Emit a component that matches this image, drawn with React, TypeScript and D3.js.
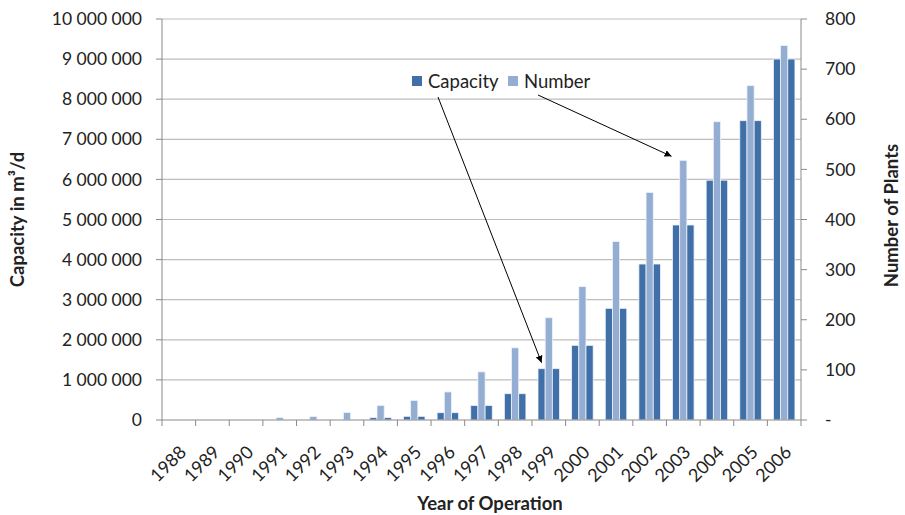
import React from 'react';
import * as d3 from 'd3';

const years = ['1988', '1989', '1990', '1991', '1992', '1993', '1994', '1995', '1996', '1997',
  '1998', '1999', '2000', '2001', '2002', '2003', '2004', '2005', '2006'];
const capacity = [0, 0, 0, 0, 0, 0, 58000, 92000, 182000, 362000,
  656000, 1280000, 1862000, 2785000, 3890000, 4863000, 5980000, 7464000, 9002000];
const plants = [0, 0, 0, 5, 7, 15, 29, 39, 56, 96,
  144, 204, 266, 356, 454, 518, 595, 667, 747];
const leftTicks = [0, 1000000, 2000000, 3000000, 4000000, 5000000, 6000000, 7000000, 8000000, 9000000, 10000000];
const rightTicks = [0, 100, 200, 300, 400, 500, 600, 700, 800];

const W = 905;
const H = 515;
const margin = { top: 19, right: 104, bottom: 95, left: 162 };
const FONT = 'Lato, "Open Sans", sans-serif';
const DARK = '#4170a8';
const LIGHT = '#93add3';
const TXT = '#222';

const fmt = (v: number) => (v === 0 ? '0' : d3.format(',')(v).replace(/,/g, ' '));

export default function App() {
  const x0 = margin.left;
  const x1 = W - margin.right;
  const y0 = H - margin.bottom;
  const y1 = margin.top;

  const x = d3.scaleBand<string>().domain(years).range([x0, x1]).padding(0);
  const bw = x.bandwidth();
  const inner = d3.scaleBand<string>().domain(['a', 'n', 'b']).range([bw * 0.18, bw * 0.82]).padding(0);
  const yL = d3.scaleLinear().domain([0, 10000000]).range([y0, y1]);
  const yR = d3.scaleLinear().domain([0, 800]).range([y0, y1]);

  const bars: { key: string; x: number; y: number; h: number; fill: string }[] = [];
  years.forEach((yr, i) => {
    const bx = x(yr) as number;
    const c = capacity[i];
    const n = plants[i];
    bars.push({ key: yr + 'a', x: bx + (inner('a') as number), y: yL(c), h: y0 - yL(c), fill: DARK });
    bars.push({ key: yr + 'n', x: bx + (inner('n') as number), y: yR(n), h: y0 - yR(n), fill: LIGHT });
    bars.push({ key: yr + 'b', x: bx + (inner('b') as number), y: yL(c), h: y0 - yL(c), fill: DARK });
  });

  const ib = inner.bandwidth();
  // arrow targets: 1999 capacity bar and 2003 number bar
  const capTip = [(x('1999') as number) + (inner('a') as number) + ib / 2, yL(capacity[11]) - 6];
  const numTip = [(x('2003') as number) + (inner('a') as number) - 1, yR(plants[15]) - 4];

  return (
    <div style={{ position: 'absolute', left: 0, top: 0 }}>
      <svg width={W} height={H} style={{ display: 'block', background: '#fff' }}>
        <defs>
          <marker id="arr" viewBox="0 0 10 10" refX="10" refY="5" markerWidth="7" markerHeight="7" orient="auto">
            <path d="M0,0 L10,5 L0,10 z" fill="#000" />
          </marker>
        </defs>

        {/* gridlines */}
        {leftTicks.slice(1).map(t => (
          <line key={'g' + t} x1={x0} x2={x1} y1={yL(t)} y2={yL(t)} stroke="#bdbdbd" strokeWidth={1.2} />
        ))}

        {/* bars */}
        {bars.filter(b => b.h > 0).map(b => (
          <rect key={b.key} x={b.x} y={b.y} width={ib} height={b.h} fill={b.fill} stroke="#eef2f8" strokeWidth={0.8} />
        ))}

        {/* axes */}
        <line x1={x0} x2={x0} y1={y1} y2={y0} stroke="#8a8a8a" />
        <line x1={x1} x2={x1} y1={y1} y2={y0} stroke="#8a8a8a" />
        <line x1={x0} x2={x1} y1={y0} y2={y0} stroke="#8a8a8a" />

        {leftTicks.map(t => (
          <g key={'l' + t}>
            <line x1={x0 - 6} x2={x0} y1={yL(t)} y2={yL(t)} stroke="#8a8a8a" />
            <text x={x0 - 20} y={yL(t)} dy="0.35em" textAnchor="end" fontFamily={FONT} fontSize={17.5} fill={TXT}>
              {fmt(t)}
            </text>
          </g>
        ))}

        {rightTicks.map(t => (
          <g key={'r' + t}>
            <line x1={x1} x2={x1 + 6} y1={yR(t)} y2={yR(t)} stroke="#8a8a8a" />
            <text x={x1 + 24} y={yR(t)} dy="0.35em" textAnchor="start" fontFamily={FONT} fontSize={17.5} fill={TXT}>
              {t === 0 ? '-' : t}
            </text>
          </g>
        ))}

        {[...years, 'end'].map((yr, i) => {
          const tx = x0 + i * bw;
          return <line key={'t' + yr} x1={tx} x2={tx} y1={y0} y2={y0 + 6} stroke="#8a8a8a" />;
        })}

        {years.map(yr => {
          const cx = (x(yr) as number) + bw / 2 + 4;
          return (
            <text key={'x' + yr} transform={`translate(${cx},${y0 + 29}) rotate(-45)`} textAnchor="end"
              dy="0.35em" fontFamily={FONT} fontSize={18} fill={TXT}>
              {yr}
            </text>
          );
        })}

        {/* axis titles */}
        <text transform={`translate(24,${(y0 + y1) / 2}) rotate(-90)`} textAnchor="middle" fontFamily={FONT}
          fontSize={18.5} fontWeight="bold" fill={TXT}>
          Capacity in m³/d
        </text>
        <text transform={`translate(898,${(y0 + y1) / 2 - 4}) rotate(-90)`} textAnchor="middle" fontFamily={FONT}
          fontSize={18.5} fontWeight="bold" fill={TXT}>
          Number of Plants
        </text>
        <text x={490} y={510} textAnchor="middle" fontFamily={FONT} fontSize={18.5} fontWeight="bold" fill={TXT}>
          Year of Operation
        </text>

        {/* legend */}
        <rect x={412} y={76} width={10} height={10} fill={DARK} />
        <text x={428} y={88} fontFamily={FONT} fontSize={18.5} fill={TXT}>Capacity</text>
        <rect x={508} y={76} width={10} height={10} fill={LIGHT} />
        <text x={524} y={88} fontFamily={FONT} fontSize={18.5} fill={TXT}>Number</text>

        {/* annotation arrows */}
        <line x1={438} y1={97} x2={capTip[0]} y2={capTip[1]} stroke="#000" strokeWidth={1} markerEnd="url(#arr)" />
        <line x1={538} y1={95} x2={numTip[0]} y2={numTip[1]} stroke="#000" strokeWidth={1} markerEnd="url(#arr)" />
      </svg>
    </div>
  );
}
